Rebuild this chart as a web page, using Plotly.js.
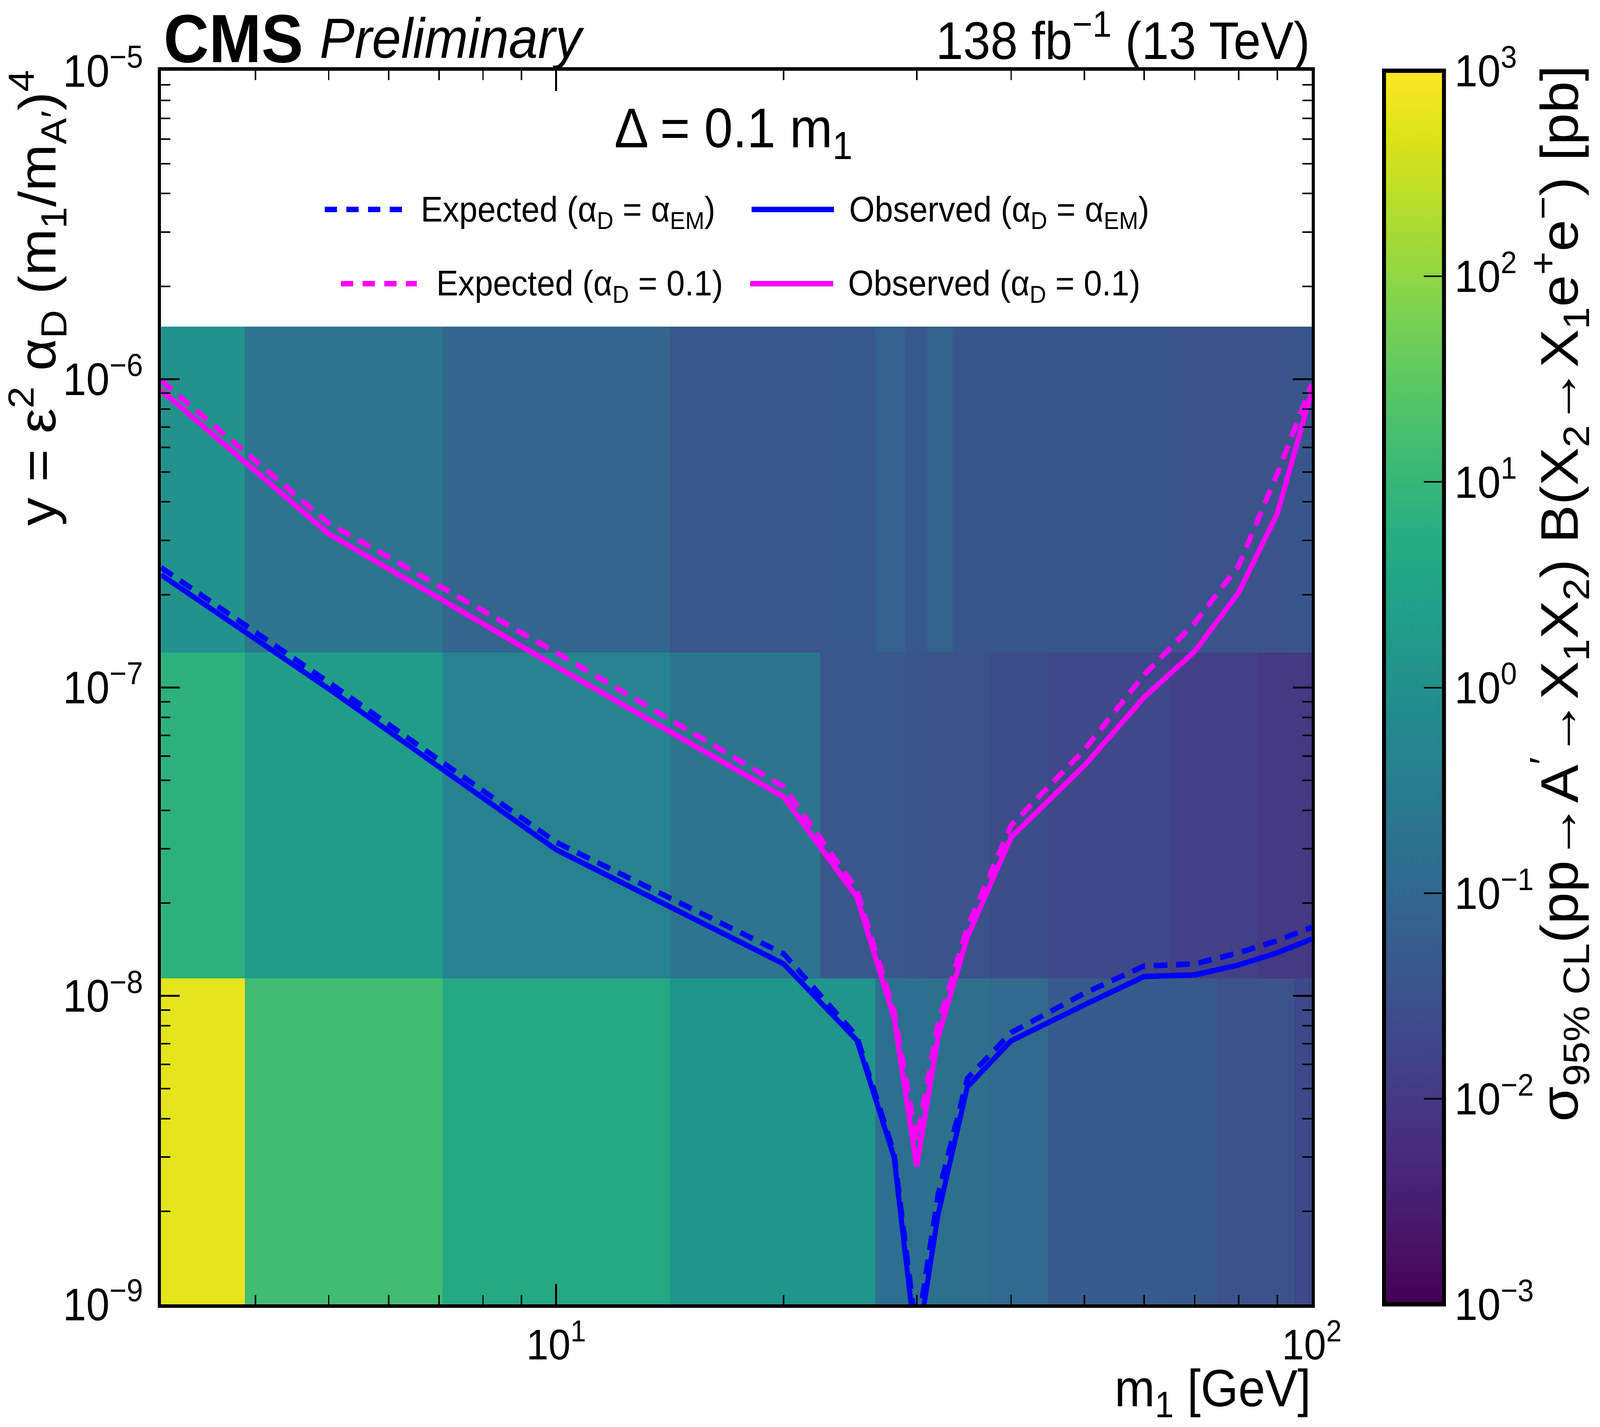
<!DOCTYPE html>
<html>
<head>
<meta charset="utf-8">
<script src="https://cdn.plot.ly/plotly-3.0.1.min.js"></script>
<style>
  html, body { margin: 0; padding: 0; background: #ffffff; overflow: hidden; }
  #wrap { width: 4430px; height: 3652px; transform-origin: 0 0; }
  #chart { width: 4430px; height: 3652px; }
</style>
</head>
<body>
<div id="wrap"><div id="chart"></div></div>
<script>
// ---------------- data ----------------
const massPoints = [3, 5, 10, 20, 25, 28, 30, 32, 35, 40, 50, 60, 70, 80, 90, 100];

// y bin edges of the cross-section map
const yBinEdges = [1e-9, 1.14e-8, 1.30e-7, 1.48e-6];

// sigma_95%CL x B  [pb], one row per y bin (bottom -> top)
const xsecBottom = [590, 14.8, 4.3, 1.28, 1.32, 0.155, 0.152, 0.158, 0.150, 0.117, 0.051, 0.050, 0.046, 0.032, 0.032, 0.021];
const xsecMiddle = [6.5, 2.1, 0.44, 0.22, 0.042, 0.042, 0.038, 0.034, 0.034, 0.027, 0.0195, 0.0195, 0.0138, 0.0138, 0.0098, 0.0098];
const xsecTop    = [1.07, 0.22, 0.089, 0.042, 0.044, 0.068, 0.043, 0.074, 0.039, 0.039, 0.039, 0.039, 0.035, 0.035, 0.035, 0.040];

// limits on y
const expectedEM = [2.45e-7, 1.04e-7, 3.15e-8, 1.37e-8, 7.4e-9, 3.1e-9, 8.0e-10, 2.26e-9, 5.4e-9, 7.6e-9, 1.02e-8, 1.25e-8, 1.27e-8, 1.38e-8, 1.51e-8, 1.67e-8];
const observedEM = [2.32e-7, 9.9e-8, 2.98e-8, 1.27e-8, 7.18e-9, 3.0e-9, 7.0e-10, 1.94e-9, 5.07e-9, 7.15e-9, 9.35e-9, 1.156e-8, 1.17e-8, 1.26e-8, 1.38e-8, 1.53e-8];
const expected01 = [9.9e-7, 3.41e-7, 1.30e-7, 4.77e-8, 2.21e-8, 8.95e-9, 3.4e-9, 8.07e-9, 1.67e-8, 3.57e-8, 6.28e-8, 1.10e-7, 1.62e-7, 2.48e-7, 4.93e-7, 9.64e-7];
const observed01 = [9.2e-7, 3.15e-7, 1.17e-7, 4.42e-8, 2.09e-8, 8.5e-9, 2.8e-9, 7.3e-9, 1.55e-8, 3.27e-8, 5.58e-8, 9.3e-8, 1.31e-7, 2.03e-7, 3.66e-7, 9.14e-7];

// tick labels
const xTickVals = [10, 100];
const xTickText = ['10<sup>1</sup>', '10<sup>2</sup>'];
const yTickVals = [1e-9, 1e-8, 1e-7, 1e-6, 1e-5];
const yTickText = ['10<sup>−9</sup>', '10<sup>−8</sup>', '10<sup>−7</sup>', '10<sup>−6</sup>', '10<sup>−5</sup>'];
const cbTickVals = [-3, -2, -1, 0, 1, 2, 3];
const cbTickText = ['10<sup>−3</sup>', '10<sup>−2</sup>', '10<sup>−1</sup>', '10<sup>0</sup>', '10<sup>1</sup>', '10<sup>2</sup>', '10<sup>3</sup>'];

const legendLabels = [
  'Expected (α<sub>D</sub> = α<sub>EM</sub>)',
  'Observed (α<sub>D</sub> = α<sub>EM</sub>)',
  'Expected (α<sub>D</sub> = 0.1)',
  'Observed (α<sub>D</sub> = 0.1)'
];

// ---------------- build ----------------
const FONT = 'Liberation Sans, Arial, Helvetica, sans-serif';
const BLUE = '#0000ff';
const MAGENTA = '#ff00ff';

// heatmap x edges: geometric means between mass points
const xEdges = [];
xEdges.push(massPoints[0] * Math.sqrt(massPoints[0] / massPoints[1]));
for (let i = 1; i < massPoints.length; i++) xEdges.push(Math.sqrt(massPoints[i - 1] * massPoints[i]));
const nL = massPoints.length;
xEdges.push(massPoints[nL - 1] * Math.sqrt(massPoints[nL - 1] / massPoints[nL - 2]));

const zLog = [xsecBottom, xsecMiddle, xsecTop].map(r => r.map(v => Math.log10(v)));

// minor ticks
function minorTicks(lo, hi) {
  const out = [];
  for (let e = Math.floor(Math.log10(lo)); e <= Math.ceil(Math.log10(hi)); e++) {
    for (let k = 2; k <= 9; k++) {
      const v = k * Math.pow(10, e);
      if (v >= lo && v <= hi) out.push(v);
    }
  }
  return out;
}
const xMinor = minorTicks(3, 100).filter(v => v !== 10);
const yMinor = minorTicks(1e-9, 1e-5);

// geometry helpers (paper coords)
const L = 446, R = 3632, T = 181, B = 3338;
const px = x => (x - L) / (R - L);
const py = y => (B - y) / (B - T);

const CB_LEFT = 3830, CB_THICK = 166, CB_OUTLINE = 11;

const heat = {
  type: 'heatmap',
  x: xEdges,
  y: yBinEdges,
  z: zLog,
  zmin: -3, zmax: 3,
  zsmooth: false,
  colorscale: 'Viridis',
  hoverinfo: 'skip',
  colorbar: {
    x: px(CB_LEFT) + 0.0006, xanchor: 'left', xpad: 0,
    y: 0.5, yanchor: 'middle', ypad: 0,
    len: 1, lenmode: 'fraction',
    thickness: CB_THICK, thicknessmode: 'pixels',
    outlinewidth: CB_OUTLINE, outlinecolor: '#000000',
    ticks: 'inside', ticklen: 61, tickwidth: 4, tickcolor: '#000000',
    tickmode: 'array', tickvals: cbTickVals, ticktext: cbTickText,
    tickfont: { family: FONT, size: 115, color: '#000000' },
    title: { text: '' }
  }
};

function line(yvals, color, dash, name) {
  return {
    type: 'scatter', mode: 'lines', x: massPoints, y: yvals, name: name,
    line: { color: color, width: 14, dash: dash, shape: 'linear' },
    hoverinfo: 'skip', showlegend: false
  };
}

const traces = [
  heat,
  line(expectedEM, BLUE, '38px,24px', legendLabels[0]),
  line(observedEM, BLUE, 'solid', legendLabels[1]),
  line(expected01, MAGENTA, '38px,24px', legendLabels[2]),
  line(observed01, MAGENTA, 'solid', legendLabels[3])
];

const annotations = [
  { text: '<b>CMS</b>', x: px(452), y: py(197), xanchor: 'left', yanchor: 'bottom', font: { family: FONT, size: 174, color: '#000' } },
  { text: '<i>Preliminary</i>', x: px(884), y: py(180), xanchor: 'left', yanchor: 'bottom', font: { family: FONT, size: 145, color: '#000' } },
  { text: '138 fb<sup>−1</sup> (13 TeV)', x: px(3628), y: py(181), xanchor: 'right', yanchor: 'bottom', font: { family: FONT, size: 136, color: '#000' } },
  { text: 'Δ = 0.1 m<sub>1</sub>', x: px(2030), y: py(247), xanchor: 'center', yanchor: 'top', font: { family: FONT, size: 142, color: '#000' } },
  { text: legendLabels[0], x: px(1164), y: py(484), xanchor: 'left', yanchor: 'top', font: { family: FONT, size: 91, color: '#000' } },
  { text: legendLabels[1], x: px(2350), y: py(484), xanchor: 'left', yanchor: 'top', font: { family: FONT, size: 91, color: '#000' } },
  { text: legendLabels[2], x: px(1207), y: py(673), xanchor: 'left', yanchor: 'top', font: { family: FONT, size: 91, color: '#000' } },
  { text: legendLabels[3], x: px(2347), y: py(673), xanchor: 'left', yanchor: 'top', font: { family: FONT, size: 91, color: '#000' } },
  { text: 'y = ε<sup>2</sup> α<sub>D</sub> (m<sub>1</sub>/m<sub>A′</sub>)<sup>4</sup>', textangle: -90,
    x: px(104), y: py(178), xanchor: 'center', yanchor: 'top', font: { family: FONT, size: 144, color: '#000' } },
  { text: 'm<sub>1</sub> [GeV]', x: px(3631), y: py(3648), xanchor: 'right', yanchor: 'bottom', font: { family: FONT, size: 134, color: '#000' } },
  { text: 'σ<sub>95% CL</sub>(pp→A<sup>′</sup>→X<sub>1</sub>X<sub>2</sub>) B(X<sub>2</sub>→X<sub>1</sub>e<sup>+</sup>e<sup>−</sup>) [pb]', textangle: -90,
    x: px(4318), y: py(166), xanchor: 'center', yanchor: 'top', font: { family: FONT, size: 147, color: '#000' } }
];
annotations.forEach(a => { a.xref = 'paper'; a.yref = 'paper'; a.showarrow = false; a.borderpad = 0; });

const shapes = [
  { x0: px(899), x1: px(1114), y0: py(536), y1: py(536), line: { color: BLUE, width: 14, dash: '34px,26px' } },
  { x0: px(2081), x1: px(2309), y0: py(536), y1: py(536), line: { color: BLUE, width: 14 } },
  { x0: px(944), x1: px(1154), y0: py(726), y1: py(726), line: { color: MAGENTA, width: 14, dash: '34px,26px' } },
  { x0: px(2077), x1: px(2307), y0: py(726), y1: py(726), line: { color: MAGENTA, width: 14 } }
];
// colorbar minor ticks
const cbInnerRight = CB_LEFT + CB_THICK - CB_OUTLINE / 2, cbMinorLen = 28;
for (let e = -3; e < 3; e++) {
  for (let k = 2; k <= 9; k++) {
    const yy = (e + Math.log10(k) + 3) / 6;
    shapes.push({ x0: px(cbInnerRight - cbMinorLen), x1: px(cbInnerRight), y0: yy, y1: yy, line: { color: '#000', width: 3 } });
  }
}
shapes.forEach(s => { s.type = 'line'; s.xref = 'paper'; s.yref = 'paper'; s.layer = 'above'; });

const axisCommon = {
  type: 'log',
  showgrid: false, zeroline: false,
  showline: true, linecolor: '#000', linewidth: 9,
  mirror: 'allticks',
  ticks: 'inside', ticklen: 52, tickwidth: 5, tickcolor: '#000',
  tickmode: 'array',
  tickfont: { family: FONT, size: 116, color: '#000' }
};

const layout = {
  width: 4430, height: 3652,
  margin: { l: L, r: 4430 - R, t: T, b: 3652 - B, pad: 0, autoexpand: false },
  paper_bgcolor: '#ffffff', plot_bgcolor: '#ffffff',
  font: { family: FONT, color: '#000' },
  showlegend: false,
  xaxis: Object.assign({}, axisCommon, {
    range: [Math.log10(3), 2],
    tickvals: xTickVals, ticktext: xTickText,
    tickfont: { family: FONT, size: 110, color: '#000' },
    ticklabelstandoff: 0,
    minor: { tickmode: 'array', tickvals: xMinor, ticks: 'inside', ticklen: 24, tickwidth: 4, tickcolor: '#000' }
  }),
  yaxis: Object.assign({}, axisCommon, {
    range: [-9, -5],
    tickvals: yTickVals, ticktext: yTickText,
    ticklabelstandoff: 18,
    minor: { tickmode: 'array', tickvals: yMinor, ticks: 'inside', ticklen: 26, tickwidth: 4, tickcolor: '#000' }
  }),
  annotations: annotations,
  shapes: shapes
};

function fitToWindow() {
  const vw = window.innerWidth || document.documentElement.clientWidth || 4430;
  const vh = window.innerHeight || document.documentElement.clientHeight || 3652;
  const sx = vw / 4430, sy = vh / 3652;
  document.getElementById('wrap').style.transform = 'scale(' + sx + ',' + sy + ')';
}

Plotly.newPlot('chart', traces, layout, { staticPlot: true, displayModeBar: false }).then(fitToWindow);
window.addEventListener('resize', fitToWindow);
</script>
</body>
</html>
